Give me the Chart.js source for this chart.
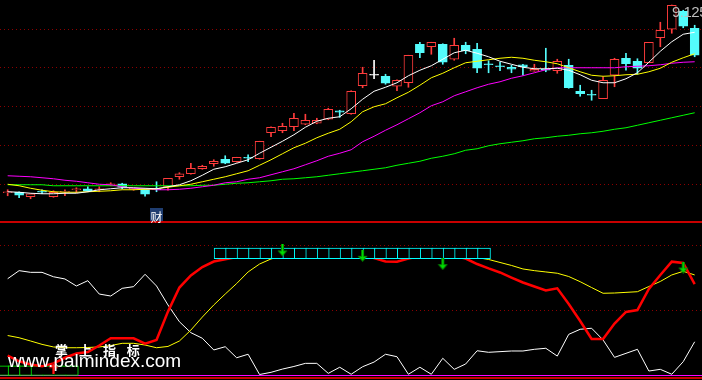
<!DOCTYPE html>
<html>
<head>
<meta charset="utf-8">
<script src="https://cdn.jsdelivr.net/npm/chart.js@4.4.1/dist/chart.umd.min.js"></script>
<style>
  html, body { margin: 0; padding: 0; background: #000; }
  #stage { position: relative; width: 702px; height: 380px; overflow: hidden; background: #000; }
  canvas { position: absolute; left: 0; }
  #kline { top: 0; }
  #ind { top: 223px; }
  .rule { position: absolute; left: 0; width: 702px; height: 2px; background: #c80000; }
  .txt { position: absolute; white-space: pre; line-height: 1; color: #fff; }
  #cai { top: 208px; width: 13px; height: 13px; line-height: 13px; text-align: center; background: #1f3d70;
         font: 12px "Noto Sans CJK SC"; }
  #hiLabel { top: 3px; font: 15px "Liberation Sans"; color: #bdbdbd; letter-spacing: -0.5px; }
  #wm1 { left: 55px; top: 340px; font: bold 13px "Noto Sans CJK SC"; letter-spacing: 4px; }
  #wm2 { left: 8px; top: 350px; font: 19px "Liberation Sans"; }
</style>
</head>
<body>
<div id="stage">
  <canvas id="kline" width="702" height="221"></canvas>
  <div class="rule" style="top:221px"></div>
  <canvas id="ind" width="702" height="154"></canvas>
  <div class="rule" style="top:377px"></div>
  <div id="cai" class="txt">财</div>
  <div id="hiLabel" class="txt"></div>
  <div id="wm1" class="txt">掌 上 指 标</div>
  <div id="wm2" class="txt">www.palmindex.com</div>
</div>
<script>
// candles (price)
const open  = [5.37,5.38,5.29,5.39,5.29,5.38,5.43,5.45,5.43,5.52, 5.55,5.44,5.44,5.44,5.49,5.69,5.75,5.85,5.95,6.04,
               5.99,6.07,6.05,6.57,6.61,6.69,6.74,6.76,6.84,7.01, 6.95,7.51,7.72,7.70,7.50,7.57,8.34,8.29,8.34,8.04,
               8.32,8.24,7.94,7.90,7.88,7.93,7.80,7.84,7.81,7.92, 7.40,7.33,7.25,7.72,8.06,8.00,7.97,8.47,8.64,9.00, 8.66];
const close = [5.38,5.32,5.35,5.38,5.38,5.39,5.44,5.40,5.44,5.55, 5.48,5.45,5.34,5.43,5.66,5.75,5.86,5.90,6.00,5.96,
               6.08,6.06,6.40,6.68,6.70,6.86,6.82,6.82,7.04,6.98, 7.40,7.76,7.72,7.56,7.62,8.12,8.17,8.38,7.98,8.32,
               8.21,7.86,7.93,7.89,7.84,7.89,7.84,7.82,8.00,7.47, 7.35,7.32,7.62,8.04,7.95,7.86,8.38,8.62,9.12,8.70, 8.12];
const high  = [5.43,5.39,5.35,5.43,5.41,5.43,5.47,5.49,5.49,5.57, 5.56,5.46,5.44,5.59,5.66,5.77,5.96,5.92,6.03,6.11,
               6.08,6.13,6.40,6.69,6.76,6.96,6.94,6.86,7.06,7.02, 7.41,7.88,8.02,7.74,7.63,8.12,8.38,8.38,8.35,8.46,
               8.38,8.36,8.01,7.98,7.92,7.94,7.94,8.26,8.04,8.04, 7.52,7.42,7.69,8.06,8.16,8.05,8.38,8.78,9.125,9.02, 8.72];
const low   = [5.31,5.27,5.25,5.35,5.28,5.31,5.37,5.39,5.39,5.51, 5.45,5.42,5.30,5.39,5.42,5.64,5.74,5.84,5.90,5.95,
               5.98,5.99,6.04,6.49,6.57,6.61,6.73,6.75,6.83,6.88, 6.94,7.47,7.65,7.54,7.41,7.48,8.07,8.14,7.94,8.02,
               8.15,7.77,7.77,7.81,7.77,7.72,7.80,7.79,7.76,7.46, 7.30,7.22,7.25,7.49,7.82,7.74,7.97,8.29,8.56,8.67, 8.09];

// moving averages
const maWhite  = [5.39,5.38,5.36,5.35,5.35,5.36,5.36,5.39,5.43,5.45, 5.47,5.47,5.46,5.45,5.49,5.53,5.61,5.72,5.84,5.89,
                  5.96,6.03,6.16,6.28,6.40,6.53,6.68,6.80,6.86,6.89, 7.05,7.24,7.40,7.48,7.57,7.71,7.82,7.91,8.04,8.17,
                  8.22,8.16,8.09,8.00,7.94,7.88,7.85,7.85,7.86,7.82, 7.73,7.62,7.57,7.57,7.65,7.77,7.98,8.20,8.39,8.54, 8.58];
const maYellow = [5.54,5.51,5.46,5.42,5.39,5.38,5.38,5.39,5.40,5.41, 5.43,5.43,5.44,5.45,5.48,5.51,5.54,5.59,5.64,5.69,
                  5.75,5.81,5.92,6.03,6.15,6.27,6.36,6.47,6.56,6.64, 6.79,6.99,7.09,7.15,7.27,7.38,7.52,7.67,7.76,7.87,
                  7.97,8.00,8.03,8.06,8.08,8.06,8.02,7.99,7.95,7.87, 7.79,7.72,7.70,7.71,7.73,7.74,7.79,7.86,7.98,8.07, 8.15];
const maPink   = [5.71,5.70,5.69,5.67,5.65,5.62,5.60,5.57,5.54,5.53, 5.49,5.46,5.45,5.43,5.43,5.44,5.46,5.49,5.52,5.57,
                  5.59,5.64,5.67,5.73,5.79,5.85,5.93,6.01,6.10,6.16, 6.23,6.39,6.50,6.62,6.73,6.85,6.97,7.11,7.19,7.31,
                  7.39,7.47,7.54,7.59,7.66,7.71,7.77,7.83,7.87,7.87, 7.87,7.87,7.87,7.87,7.89,7.90,7.91,7.93,7.96,7.98, 7.99];
const maGreen  = [5.53,5.53,5.53,5.53,5.51,5.51,5.51,5.51,5.51,5.51, 5.51,5.51,5.51,5.51,5.51,5.51,5.51,5.52,5.52,5.54,
                  5.56,5.57,5.59,5.61,5.64,5.65,5.67,5.69,5.72,5.75, 5.78,5.81,5.84,5.87,5.92,5.96,6.00,6.06,6.10,6.15,
                  6.22,6.25,6.31,6.35,6.38,6.41,6.45,6.47,6.50,6.52, 6.55,6.57,6.60,6.64,6.67,6.72,6.77,6.82,6.87,6.92, 6.97];
const mainGrid = [8.64, 7.88, 7.10, 6.32, 5.54];

// lower indicator (0..100)
const indWhite  = [74.3,80.5,79.2,79.2,75.8,74.1,68.7,72.8,62.5,61.0, 66.9,68.2,77.7,68.7,54.1,41.2,32.8,28.5,19.5,22.0,
                   13.5,16.2,0.6,2.3,4.8,6.8,9.2,9.2,1.5,6.2, 0.8,6.6,10.2,16.2,14.3,0.8,6.2,0.8,13.1,4.6,
                   8.7,18.9,17.7,18.2,18.7,18.7,20.0,20.8,14.8,31.5, 35.4,36.2,27.2,13.8,16.9,20.0,3.3,4.6,0.8,10.5, 25.8];
const indYellow = [30.6,28.9,26.4,23.8,21.8,21.2,21.2,21.4,21.8,22.9, 24.6,24.6,23.3,21.2,22.2,26.4,34.8,44.8,54.1,62.5,
                   70.6,79.5,85.6,89.5,91.8,94.1,95.6,96.4,96.4,96.4, 96.4,96.4,95.6,94.8,94.8,94.1,94.1,93.3,93.3,92.5,
                   91.8,90.6,89.1,86.8,84.5,81.8,80.5,79.5,78.5,76.0, 72.0,67.5,63.1,63.3,63.8,64.3,68.3,72.2,77.2,80.0, 77.2];
const indRed    = [15.2,10.8,8.3,6.9,9.2,13.5,16.8,17.9,22.9,28.5, 28.5,28.5,24.3,27.2,49.0,67.5,76.8,83.3,87.5,89.2,
                   91.0,92.5,94.1,94.8,95.6,95.6,95.6,94.8,94.1,93.3, 92.5,91.8,90.2,87.5,87.4,89.8,91.8,92.5,92.5,91.8,
                   89.8,85.6,82.2,79.1,75.2,71.4,68.3,65.2,66.9,54.8, 41.8,27.9,27.9,39.8,48.7,50.2,66.4,77.2,87.4,86.4, 70.2];
const indGrid = [100, 50];
const hotCells  = [18,19,20,21,22,23,24,25,26,27,28,29,30,31,32,33,34,35,36,37,38,39,40,41];
const hotBand   = [89.7, 97.9];
const coldCells = [-1,0,1,2,3,4,5];
const coldRunStart = [-1,0,1,2];
const coldRunEnd   = [-1,0,1,5];
const coldBand  = [0, 7.2];
const sellIdx = [24, 31, 38, 59];
const sellVal = [96.0, 91.9, 85.5, 82.9];
const buyIdx = [4];
const buyVal = [5.4];

const UP = '#ff3c3c', DOWN = '#54fcfc', FLAT = '#ffffff';
const idx = open.map((v, i) => i);
const candleColor = idx.map(i => close[i] > open[i] ? UP : (close[i] < open[i] ? DOWN : FLAT));
const bodyFill = idx.map(i => close[i] > open[i] ? '#000' : candleColor[i]);
const xRange = { type: 'linear', display: false, min: -0.67, max: 60.64, offset: false };

const hlines = {
  id: 'hlines',
  beforeDatasetsDraw(chart, args, opts) {
    const ctx = chart.ctx, y = chart.scales.y, a = chart.chartArea;
    (opts.lines || []).forEach(function (l) {
      const py = Math.round(y.getPixelForValue(l.value)) + 0.5;
      ctx.save();
      ctx.strokeStyle = l.color;
      ctx.lineWidth = l.width || 1;
      ctx.setLineDash(l.dash || []);
      ctx.beginPath(); ctx.moveTo(a.left, py); ctx.lineTo(a.right, py); ctx.stroke();
      ctx.restore();
    });
  }
};

function line(values, color, width, order) {
  return { type: 'line', data: idx.map(i => ({ x: i, y: values[i] })), borderColor: color,
           borderWidth: width, pointRadius: 0, tension: 0, order: order };
}

function arrow(fill, edge, up) {
  const c = document.createElement('canvas');
  c.width = 11; c.height = 12;
  const g = c.getContext('2d');
  if (up) { g.translate(0, 12); g.scale(1, -1); }
  g.fillStyle = edge;
  g.fillRect(4, 0, 3, 7);
  g.beginPath(); g.moveTo(0.5, 6); g.lineTo(10.5, 6); g.lineTo(5.5, 12); g.closePath(); g.fill();
  g.fillStyle = fill;
  g.fillRect(5, 0, 1, 7);
  g.beginPath(); g.moveTo(2.5, 7); g.lineTo(8.5, 7); g.lineTo(5.5, 10.5); g.closePath(); g.fill();
  return c;
}

const kChart = new Chart(document.getElementById('kline'), {
  type: 'bar',
  data: {
    datasets: [
      line(maWhite, '#ffffff', 1, 0),
      line(maYellow, '#ffff00', 1, 1),
      line(maPink, '#ff00ff', 1, 2),
      line(maGreen, '#00ff00', 1, 3),
      { type: 'bar', data: idx.map(i => ({ x: i, y: [open[i], close[i]] })), backgroundColor: bodyFill,
        borderColor: candleColor, borderWidth: 1, borderSkipped: false, barThickness: 9, minBarLength: 1,
        grouped: false, order: 5 },
      { type: 'bar', data: idx.map(i => ({ x: i, y: [low[i], high[i]] })), backgroundColor: candleColor,
        borderWidth: 0, barThickness: 1, grouped: false, order: 6 }
    ]
  },
  options: {
    responsive: false, animation: false, layout: { padding: 0, autoPadding: false },
    plugins: { legend: { display: false }, tooltip: { enabled: false },
      hlines: { lines: mainGrid.map(v => ({ value: v, color: '#8c0000', dash: [1, 3] })) } },
    scales: { x: xRange, y: { display: false, min: 4.805, max: 9.225 } }
  },
  plugins: [hlines]
});

new Chart(document.getElementById('ind'), {
  type: 'bar',
  data: {
    datasets: [
      { type: 'line', data: sellIdx.map((i, k) => ({ x: i, y: sellVal[k] })), showLine: false,
        pointStyle: arrow('#00e000', '#009000', false), pointRadius: 6, order: 0 },
      { type: 'line', data: buyIdx.map((i, k) => ({ x: i, y: buyVal[k] })), showLine: false,
        pointStyle: arrow('#ff2020', '#b00000', true), pointRadius: 6, order: 0 },
      { type: 'bar', data: hotCells.map(i => ({ x: i + 0.6, y: hotBand })), backgroundColor: '#000',
        borderColor: '#00ffff', borderWidth: 1, borderSkipped: false, barThickness: 13, grouped: false, order: 1 },
      line(indRed, '#ff0000', 2.5, 2),
      line(indYellow, '#ffff00', 1, 3),
      line(indWhite, '#ffffff', 1, 4),
      { type: 'bar', data: coldCells.map(i => ({ x: i + 0.6, y: coldBand })), backgroundColor: '#000',
        borderColor: '#00ff00', borderSkipped: false, barThickness: 13, grouped: false, order: 5,
        borderWidth: function (c) {
          const i = coldCells[c.dataIndex];
          return { top: 1, bottom: 1, left: coldRunStart.includes(i) ? 1 : 0, right: coldRunEnd.includes(i) ? 1 : 0 };
        } }
    ]
  },
  options: {
    responsive: false, animation: false, layout: { padding: 0, autoPadding: false },
    plugins: { legend: { display: false }, tooltip: { enabled: false },
      hlines: { lines: indGrid.map(v => ({ value: v, color: '#8c0000', dash: [1, 3] }))
                .concat([{ value: 0, color: '#ff00ff', width: 1 }]) } },
    scales: { x: xRange, y: { display: false, min: -1.3, max: 117.15 } }
  },
  plugins: [hlines]
});

// annotations placed with the price chart's own scales
const sx = kChart.scales.x;
const cai = document.getElementById('cai');
cai.style.left = (sx.getPixelForValue(13) - 6.5) + 'px';
const hiVal = Math.max.apply(null, high);
const hi = document.getElementById('hiLabel');
hi.textContent = hiVal.toFixed(3);
hi.style.left = Math.round(sx.getPixelForValue(high.indexOf(hiVal))) + 'px';
</script>
</body>
</html>
